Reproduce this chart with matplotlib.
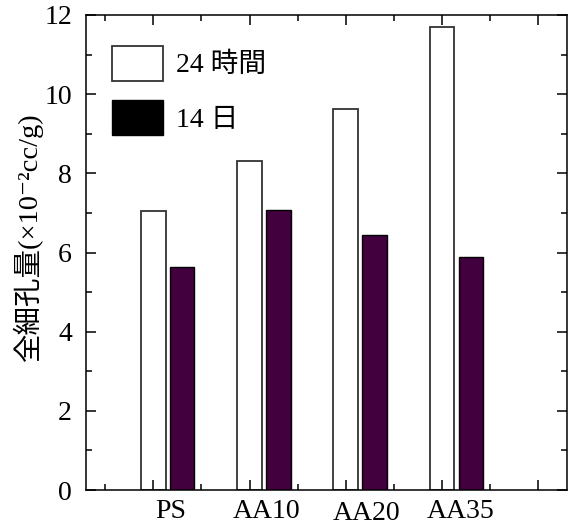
import matplotlib
matplotlib.use("Agg")
import matplotlib.pyplot as plt
from matplotlib.patches import Patch
from matplotlib.ticker import MultipleLocator
import numpy as np

plt.rcParams['font.family'] = ['Liberation Serif', 'Noto Sans CJK JP', 'DejaVu Sans']

categorias = ['PS', 'AA10', 'AA20', 'AA35']
valores_24h = [7.05, 8.3, 9.63, 11.69]
valores_14d = [5.63, 7.07, 6.44, 5.88]
legenda = ['24 時間', '14 日']
rotulo_y = '全細孔量(×10⁻²cc/g)'

cor_roxo = '#42003e'

fig = plt.figure(figsize=(5.7, 5.26), dpi=100)
ax = fig.add_axes([0.1509, 0.0684, 0.8438, 0.9031])

x = np.arange(len(categorias))
largura = 0.255
ax.bar(x, valores_24h, largura, color='white', edgecolor='#333333', linewidth=1.3)
ax.bar(x + 0.3, valores_14d, largura, color=cor_roxo, edgecolor='black', linewidth=1.0)

ax.set_xlim(-0.7, 4.3)
ax.set_ylim(0, 12)
ax.xaxis.set_major_locator(MultipleLocator(1))
ax.xaxis.set_minor_locator(MultipleLocator(0.5))
ax.yaxis.set_major_locator(MultipleLocator(2))
ax.yaxis.set_minor_locator(MultipleLocator(1))
ax.tick_params(which='both', direction='in', top=True, right=True, width=1.1)
ax.tick_params(which='major', length=7)
ax.tick_params(which='minor', length=4.5)
ax.tick_params(axis='y', labelsize=20, pad=10)
ax.tick_params(axis='x', labelbottom=False)
for s in ax.spines.values():
    s.set_linewidth(1.1)

# rotulos das categorias (desalinhados como no original)
pos_rotulos = [0.18, 1.18, 2.22, 3.19]
alt_rotulos = [-0.059, -0.059, -0.064, -0.059]
trans = ax.get_xaxis_transform()
for p, h, c in zip(pos_rotulos, alt_rotulos, categorias):
    ax.text(p, h, c, transform=trans, ha='center', va='baseline', fontsize=20)

ax.set_ylabel(rotulo_y, fontsize=20.5)
ax.yaxis.set_label_coords(-0.09, 0.533)

alcas = [Patch(facecolor='white', edgecolor='#333333', linewidth=1.3),
         Patch(facecolor='black', edgecolor='black')]
ax.legend(alcas, legenda, loc='upper left', bbox_to_anchor=(0.054, 0.935),
          frameon=False, borderpad=0, borderaxespad=0, fontsize=20,
          handlelength=1.85, handleheight=1.55, labelspacing=0.7, handletextpad=0.45)

fig.savefig('out.png', dpi=100)
